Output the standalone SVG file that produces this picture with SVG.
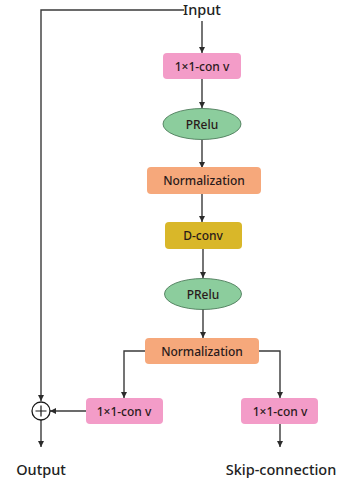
<svg xmlns="http://www.w3.org/2000/svg" width="342" height="482" viewBox="0 0 342 482">
<defs>
<marker id="ah" viewBox="0 0 10 10" refX="10" refY="5" markerWidth="6" markerHeight="8" markerUnits="userSpaceOnUse" orient="auto"><path d="M0,0 L10,5 L0,10 Z" fill="#2b2b2b"/></marker>
<style>
.c{fill:none;stroke:#3a3a3a;stroke-width:1.4}
.a{marker-end:url(#ah)}
.t{font-family:"Noto Sans","Open Sans",sans-serif;font-size:12px;font-weight:500;fill:#2a1a1a;text-anchor:middle;dominant-baseline:central}
.l{font-family:"Noto Sans","Open Sans",sans-serif;font-size:14.5px;font-weight:500;fill:#222;text-anchor:middle}
.pink{fill:#f39cc8}
.org{fill:#f6a87b}
.gold{fill:#d9b729}
.grn{fill:#8ccd9d;stroke:#3f6f4d;stroke-width:0.8}
</style>
</defs>
<rect width="342" height="482" fill="#fff"/>
<g id="connectors">
<path class="c" d="M184,10 H41 V401" marker-end="url(#ah)"/>
<path class="c a" d="M202,21 V53"/>
<path class="c a" d="M202,79 V108"/>
<path class="c a" d="M202,140 V168"/>
<path class="c a" d="M202,194 V222"/>
<path class="c a" d="M203,249 V278"/>
<path class="c a" d="M203,309 V338"/>
<path class="c a" d="M145,351 H124 V398"/>
<path class="c a" d="M259,351 H280 V398"/>
<path class="c a" d="M86,411 H50"/>
<path class="c a" d="M41,420 V447"/>
<path class="c a" d="M280,424 V447"/>
</g>
<g id="input"><text class="l" x="202" y="15">Input</text></g>
<g id="conv1"><rect class="pink" x="163" y="53" width="78" height="26" rx="4"/><text class="t" x="202" y="66">1×1-con v</text></g>
<g id="prelu1"><ellipse class="grn" cx="202" cy="124" rx="39" ry="15.5"/><text class="t" x="202" y="124">PRelu</text></g>
<g id="norm1"><rect class="org" x="147" y="167" width="114" height="27" rx="4"/><text class="t" x="204" y="180.5">Normalization</text></g>
<g id="dconv"><rect class="gold" x="165" y="222" width="77" height="27" rx="4"/><text class="t" x="203" y="235.5">D-conv</text></g>
<g id="prelu2"><ellipse class="grn" cx="203" cy="294" rx="38.5" ry="15.5"/><text class="t" x="203" y="294">PRelu</text></g>
<g id="norm2"><rect class="org" x="145" y="338" width="114" height="26" rx="4"/><text class="t" x="202" y="351">Normalization</text></g>
<g id="conv2"><rect class="pink" x="86" y="398" width="77" height="26" rx="4"/><text class="t" x="124" y="411">1×1-con v</text></g>
<g id="conv3"><rect class="pink" x="241" y="398" width="77" height="26" rx="4"/><text class="t" x="280" y="411">1×1-con v</text></g>
<g id="sum"><circle cx="41" cy="411" r="9" fill="#fff" stroke="#1a1a1a" stroke-width="1.3"/><path d="M35.5,411 H46.5 M41,405.5 V416.5" stroke="#1a1a1a" stroke-width="1.2"/></g>
<g id="output"><text class="l" x="41" y="475">Output</text></g>
<g id="skip"><text class="l" x="281" y="475">Skip-connection</text></g>
</svg>
